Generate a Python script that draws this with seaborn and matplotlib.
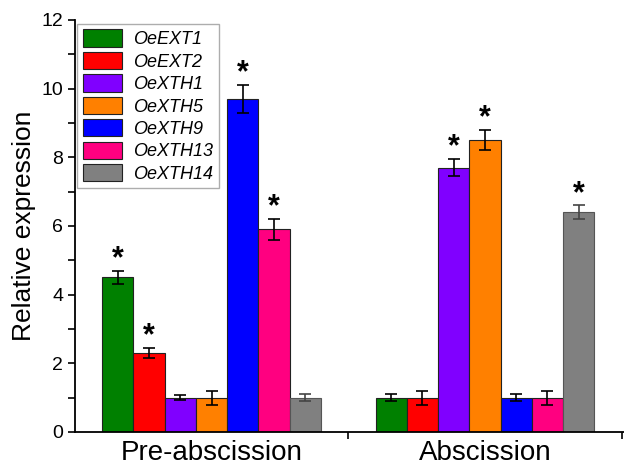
import seaborn as sns
import pandas as pd
import numpy as np
import matplotlib.pyplot as plt
from matplotlib.ticker import MultipleLocator

stages = ['Pre-abscission', 'Abscission']
genes = ['OeEXT1', 'OeEXT2', 'OeXTH1', 'OeXTH5', 'OeXTH9', 'OeXTH13', 'OeXTH14']
pre_mean = [4.5, 2.3, 1.0, 1.0, 9.7, 5.9, 1.0]
pre_err = [0.2, 0.15, 0.08, 0.2, 0.4, 0.3, 0.1]
abs_mean = [1.0, 1.0, 7.7, 8.5, 1.0, 1.0, 6.4]
abs_err = [0.1, 0.2, 0.25, 0.3, 0.1, 0.2, 0.2]
pre_sig = [True, True, False, False, True, True, False]
abs_sig = [False, False, True, True, False, False, True]
colors = ['#008000', '#ff0000', '#8000ff', '#ff8000', '#0000ff', '#ff0080', '#808080']

df = pd.DataFrame({
    'stage': [stages[0]] * 7 + [stages[1]] * 7,
    'gene': genes * 2,
    'value': pre_mean + abs_mean,
    'err': pre_err + abs_err,
    'sig': pre_sig + abs_sig,
})

sns.set_style('ticks', {'axes.edgecolor': 'black', 'text.color': 'black',
                        'axes.labelcolor': 'black', 'xtick.color': 'black',
                        'ytick.color': 'black'})
plt.rcParams['font.family'] = ['Liberation Sans', 'DejaVu Sans']

fig = plt.figure(figsize=(6.24, 4.65), dpi=100)
ax = fig.add_axes([0.12, 0.071, 0.885, 0.886])

sns.barplot(data=df, x='stage', y='value', hue='gene', palette=colors,
            saturation=1, width=0.8, errorbar=None, edgecolor='#222222',
            linewidth=0.8, ax=ax)

bar_conts = list(ax.containers)
for i, cont in enumerate(bar_conts):
    for j, bar in enumerate(cont):
        row = df[(df.gene == genes[i]) & (df.stage == stages[j])].iloc[0]
        cx = bar.get_x() + bar.get_width() / 2
        ecol = '#444444' if genes[i] == 'OeXTH14' else 'black'
        ax.errorbar(cx, row.value, yerr=row.err, fmt='none', ecolor=ecol,
                    elinewidth=1.2, capsize=4, capthick=1.2)
        if genes[i] == 'OeXTH14':
            bar.set_edgecolor('#555555')
        if row.sig:
            ax.text(cx, row.value + row.err - 0.1, '*', ha='center', va='bottom',
                    fontsize=22, fontweight='bold')

ax.set_xlim(-0.5, 1.52)
ax.set_ylim(0, 12)
ax.yaxis.set_major_locator(MultipleLocator(2))
ax.yaxis.set_minor_locator(MultipleLocator(1))
ax.set_xticks([0, 1])
ax.set_xticklabels(stages, fontsize=20)
ax.set_xticks([0.5, 1.5], minor=True)
ax.tick_params(axis='x', which='major', length=0, pad=6)
ax.tick_params(axis='x', which='minor', length=5, width=1.2)
ax.tick_params(axis='y', which='major', labelsize=14, length=5, width=1.2)
ax.tick_params(axis='y', which='minor', length=5, width=1.2)
ax.set_xlabel('')
ax.set_ylabel('Relative expression', fontsize=19)
for s in ['left', 'bottom']:
    ax.spines[s].set_linewidth(1.3)
sns.despine(ax=ax)

leg = ax.legend(loc='upper left', bbox_to_anchor=(-0.012, 1.012),
                prop={'style': 'italic', 'size': 13}, frameon=True, fancybox=False,
                edgecolor='#999999', handlelength=2.2, handleheight=1.1,
                labelspacing=0.2, borderpad=0.3, handletextpad=0.6)
leg.get_frame().set_linewidth(1.0)

fig.savefig('out.png', dpi=100)
